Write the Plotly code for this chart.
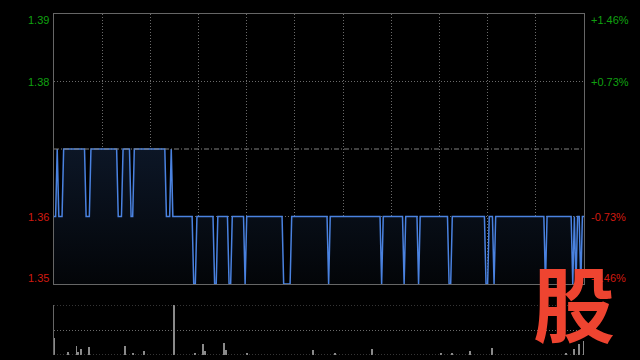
import plotly.graph_objects as go

# ---- data ----
prev_close = 1.37
total_minutes = 330  # 09:30-12:00 + 13:00-16:00
# price changes: minute index where a new price starts, and that price
change_minutes = [0, 2, 3, 6, 20, 23, 40, 43, 48, 50, 70, 73, 74, 87, 89, 100, 102,
                  109, 111, 119, 120, 143, 148, 171, 172, 204, 205, 218, 219, 227,
                  228, 246, 248, 269, 271, 274, 275, 306, 307, 323, 324, 325, 326,
                  328, 329]
change_prices = [1.36, 1.37, 1.36, 1.37, 1.36, 1.37, 1.36, 1.37, 1.36, 1.37, 1.36,
                 1.37, 1.36, 1.35, 1.36, 1.35, 1.36, 1.35, 1.36, 1.35, 1.36, 1.35,
                 1.36, 1.35, 1.36, 1.35, 1.36, 1.35, 1.36, 1.35, 1.36, 1.35, 1.36,
                 1.35, 1.36, 1.35, 1.36, 1.35, 1.36, 1.35, 1.36, 1.35, 1.36, 1.35,
                 1.36]
# notable volume bars (minute, relative volume)
vol_minutes = [0, 9, 14, 15, 17, 22, 44, 49, 56, 75, 88, 93, 94, 106, 107, 120, 161,
               175, 198, 241, 248, 259, 273, 319, 324, 327, 330]
vol_values = [17, 3, 9, 3, 6, 8, 9, 2, 4, 50, 2, 11, 4, 12, 5, 2, 5,
              2, 6, 2, 2, 4, 7, 2, 6, 11, 14]
left_ticks = [1.39, 1.38, 1.36, 1.35]
left_labels = ["1.39", "1.38", "1.36", "1.35"]
right_labels = ["+1.46%", "+0.73%", "-0.73%", "-1.46%"]
grid_minutes = [30, 60, 90, 120, 150, 180, 210, 240, 270, 300]

# expand step changes to per-minute series
minutes = list(range(total_minutes + 1))
prices = []
idx = 0
for m in minutes:
    while idx + 1 < len(change_minutes) and change_minutes[idx + 1] <= m:
        idx += 1
    prices.append(change_prices[idx])

W, H = 640, 360
xl, xr = 54 / W, 584 / W
main_top, main_bot = 1 - 14 / H, 1 - 284 / H
vol_top, vol_bot = 1 - 305 / H, 1 - 355 / H

fig = go.Figure()
fig.add_trace(go.Scatter(x=minutes, y=[1.35] * len(minutes), mode="lines",
                         line=dict(width=0), hoverinfo="skip", showlegend=False,
                         xaxis="x", yaxis="y"))
fig.add_trace(go.Scatter(
    x=minutes, y=prices, mode="lines", fill="tonexty",
    fillgradient=dict(type="vertical", start=1.35, stop=1.37,
                      colorscale=[[0, "#030508"], [1, "#0c1626"]]),
    line=dict(color="#4a82e0", width=1.5), showlegend=False,
    xaxis="x", yaxis="y"))
fig.add_trace(go.Bar(x=vol_minutes, y=vol_values, width=0.6,
                     marker=dict(color="#8a8a8a", line=dict(width=0)),
                     showlegend=False, xaxis="x2", yaxis="y2"))

grid_col = "#6a6a6a"
gdash = "1px,2px"
fig.update_layout(
    width=W, height=H, margin=dict(l=0, r=0, t=0, b=0),
    paper_bgcolor="#000000", plot_bgcolor="#000000",
    bargap=0,
    xaxis=dict(domain=[xl, xr], range=[0, total_minutes], tickvals=grid_minutes,
               showticklabels=False, showgrid=True, gridcolor=grid_col,
               griddash=gdash, gridwidth=1, zeroline=False,
               showline=True, mirror=True, linecolor="#666666", linewidth=1,
               ticks=""),
    yaxis=dict(domain=[main_bot, main_top], range=[1.35, 1.39],
               tickvals=[1.36, 1.38], showticklabels=False, showgrid=True,
               gridcolor=grid_col, griddash=gdash, zeroline=False,
               showline=True, mirror=True, linecolor="#666666", linewidth=1,
               ticks=""),
    xaxis2=dict(domain=[xl, xr], range=[0, total_minutes], anchor="y2",
                showticklabels=False, showgrid=False, zeroline=False,
                showline=False, ticks=""),
    yaxis2=dict(domain=[vol_bot, vol_top], range=[0, 50], anchor="x2",
                tickvals=[25], showticklabels=False, showgrid=True,
                gridcolor=grid_col, griddash=gdash, zeroline=False,
                showline=True, linecolor="#666666", linewidth=1, ticks=""),
    font=dict(family="Liberation Sans, Arial, sans-serif"),
)

# volume panel top / bottom dotted lines
for yv in (50, 0):
    fig.add_shape(type="line", xref="x2", yref="y2", x0=0, x1=total_minutes,
                  y0=yv, y1=yv, line=dict(color=grid_col, width=1, dash=gdash))

# previous close line
fig.add_shape(type="line", xref="x", yref="y", x0=0, x1=total_minutes,
              y0=prev_close, y1=prev_close,
              line=dict(color="#808080", width=1, dash="5px,2px,1px,2px"))

# axis labels
label_y_px = [20, 82, 217, 278]
for val, lab, rlab, ypx in zip(left_ticks, left_labels, right_labels, label_y_px):
    col = "#10a010" if val > prev_close else "#d01a10"
    fig.add_annotation(x=51 / W, y=1 - ypx / H, xref="paper", yref="paper",
                       text=lab, showarrow=False, xanchor="right", yanchor="middle",
                       font=dict(size=11, color=col))
    fig.add_annotation(x=589 / W, y=1 - ypx / H, xref="paper", yref="paper",
                       text=rlab, showarrow=False, xanchor="left", yanchor="middle",
                       font=dict(size=11, color=col))

# watermark logo
fig.add_annotation(x=574 / W, y=1 - 300 / H, xref="paper", yref="paper",
                   text="<b>股</b>", showarrow=False, xanchor="center",
                   yanchor="middle",
                   font=dict(size=82, color="#ee4430",
                             family="Noto Sans CJK SC, sans-serif"))

fig.write_html("out.html")
